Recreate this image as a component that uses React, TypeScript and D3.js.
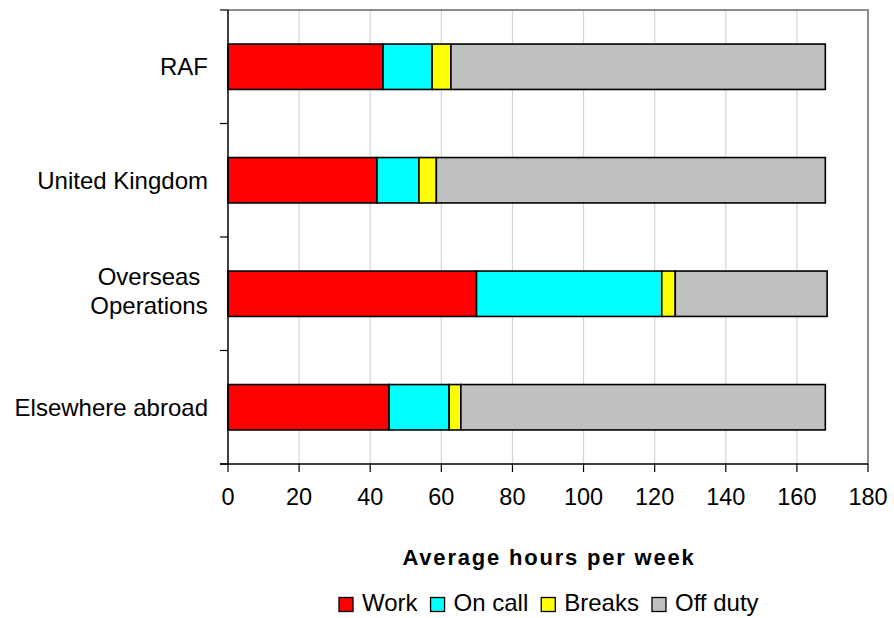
import React, { useEffect, useRef } from "react";
import * as d3 from "d3";

const categories = ["RAF", "United Kingdom", "Overseas\nOperations", "Elsewhere abroad"];
const seriesNames = ["Work", "On call", "Breaks", "Off duty"];
const seriesColors = ["#ff0000", "#00ffff", "#ffff00", "#c0c0c0"];
const work = [43.6, 41.9, 69.9, 45.3];
const onCall = [13.8, 11.8, 52.1, 16.9];
const breaks = [5.3, 4.9, 3.8, 3.3];
const offDuty = [105.3, 109.4, 42.7, 102.5];
const xTicks = [0, 20, 40, 60, 80, 100, 120, 140, 160, 180];
const xTitle = "Average hours per week";

const W = 894;
const H = 618;
const FONT = "'Liberation Sans', Arial, sans-serif";

export default function App() {
  const ref = useRef<SVGSVGElement>(null);

  useEffect(() => {
    const svg = d3.select(ref.current);
    svg.selectAll("*").remove();

    const left = 228, right = 868, top = 10, bottom = 464;
    const x = d3.scaleLinear().domain([0, 180]).range([left, right]);
    const y = d3.scaleBand<string>().domain(categories).range([top, bottom]).paddingInner(0.6).paddingOuter(0.3);
    const step = y.step();

    const rows = categories.map((c, i) => ({
      cat: c,
      [seriesNames[0]]: work[i],
      [seriesNames[1]]: onCall[i],
      [seriesNames[2]]: breaks[i],
      [seriesNames[3]]: offDuty[i],
    }));
    const stacked = d3.stack<any>().keys(seriesNames)(rows);

    // gridlines
    svg.append("g").selectAll("line").data(xTicks.filter((t) => t > 0 && t < 180)).join("line")
      .attr("x1", (d) => x(d)).attr("x2", (d) => x(d))
      .attr("y1", top).attr("y2", bottom)
      .attr("stroke", "#d4d4d4").attr("stroke-width", 1.2);

    // plot border top/right
    svg.append("path")
      .attr("d", `M${left},${top}H${x(180)}V${bottom}`)
      .attr("fill", "none").attr("stroke", "#8c8c8c").attr("stroke-width", 2);

    // bars
    const gBars = svg.append("g");
    stacked.forEach((s, si) => {
      gBars.append("g").selectAll("rect").data(s).join("rect")
        .attr("x", (d) => x(d[0]))
        .attr("width", (d) => x(d[1]) - x(d[0]))
        .attr("y", (d) => (y(d.data.cat) as number))
        .attr("height", y.bandwidth())
        .attr("fill", seriesColors[si])
        .attr("stroke", "#000").attr("stroke-width", 1.6);
    });

    // y axis
    svg.append("line").attr("x1", left).attr("x2", left).attr("y1", top).attr("y2", bottom)
      .attr("stroke", "#000").attr("stroke-width", 1.5);
    const bounds = d3.range(categories.length + 1).map((i) => top + i * step);
    svg.append("g").selectAll("line").data(bounds).join("line")
      .attr("x1", left - 8).attr("x2", left).attr("y1", (d) => d).attr("y2", (d) => d)
      .attr("stroke", "#000").attr("stroke-width", 1.2);

    // x axis
    svg.append("line").attr("x1", left - 8).attr("x2", x(180)).attr("y1", bottom).attr("y2", bottom)
      .attr("stroke", "#000").attr("stroke-width", 1.5);
    svg.append("g").selectAll("line").data(xTicks).join("line")
      .attr("x1", (d) => x(d)).attr("x2", (d) => x(d)).attr("y1", bottom).attr("y2", bottom + 8)
      .attr("stroke", "#000").attr("stroke-width", 1.2);
    svg.append("g").selectAll("text").data(xTicks).join("text")
      .attr("x", (d) => x(d)).attr("y", 505)
      .attr("text-anchor", "middle")
      .attr("font-family", FONT).attr("font-size", 23.5).attr("fill", "#000")
      .text((d) => String(d));

    // y labels
    categories.forEach((c) => {
      const lines = c.split("\n");
      const cy = (y(c) as number) + y.bandwidth() / 2;
      if (lines.length === 1) {
        svg.append("text").attr("x", 208).attr("y", cy + 8.5)
          .attr("text-anchor", "end")
          .attr("font-family", FONT).attr("font-size", 24).attr("fill", "#000")
          .text(c);
      } else {
        const t = svg.append("text")
          .attr("font-family", FONT).attr("font-size", 24).attr("fill", "#000")
          .attr("text-anchor", "middle");
        lines.forEach((ln, li) => {
          t.append("tspan").attr("x", 149).attr("y", cy - 9 + li * 29).text(ln);
        });
      }
    });

    // x title
    svg.append("text").attr("x", (left + right) / 2 + 1).attr("y", 565)
      .attr("text-anchor", "middle")
      .attr("font-family", FONT).attr("font-size", 22).attr("font-weight", "bold")
      .attr("letter-spacing", 1.8).attr("fill", "#000")
      .text(xTitle);

    // legend
    const lg = svg.append("g");
    let cx = 0;
    seriesNames.forEach((n, i) => {
      lg.append("rect").attr("x", cx).attr("y", 597.5).attr("width", 14).attr("height", 14)
        .attr("fill", seriesColors[i]).attr("stroke", "#000").attr("stroke-width", 1.3);
      const t = lg.append("text").attr("x", cx + 23).attr("y", 611)
        .attr("font-family", FONT).attr("font-size", 24).attr("fill", "#000").text(n);
      const w = (t.node() as SVGTextElement).getComputedTextLength();
      cx += 23 + w + 13;
    });
    lg.attr("transform", `translate(339,0)`);
  }, []);

  return (
    <svg ref={ref} width={W} height={H}
      style={{ position: "absolute", left: 0, top: 0, display: "block", background: "#fff" }} />
  );
}
